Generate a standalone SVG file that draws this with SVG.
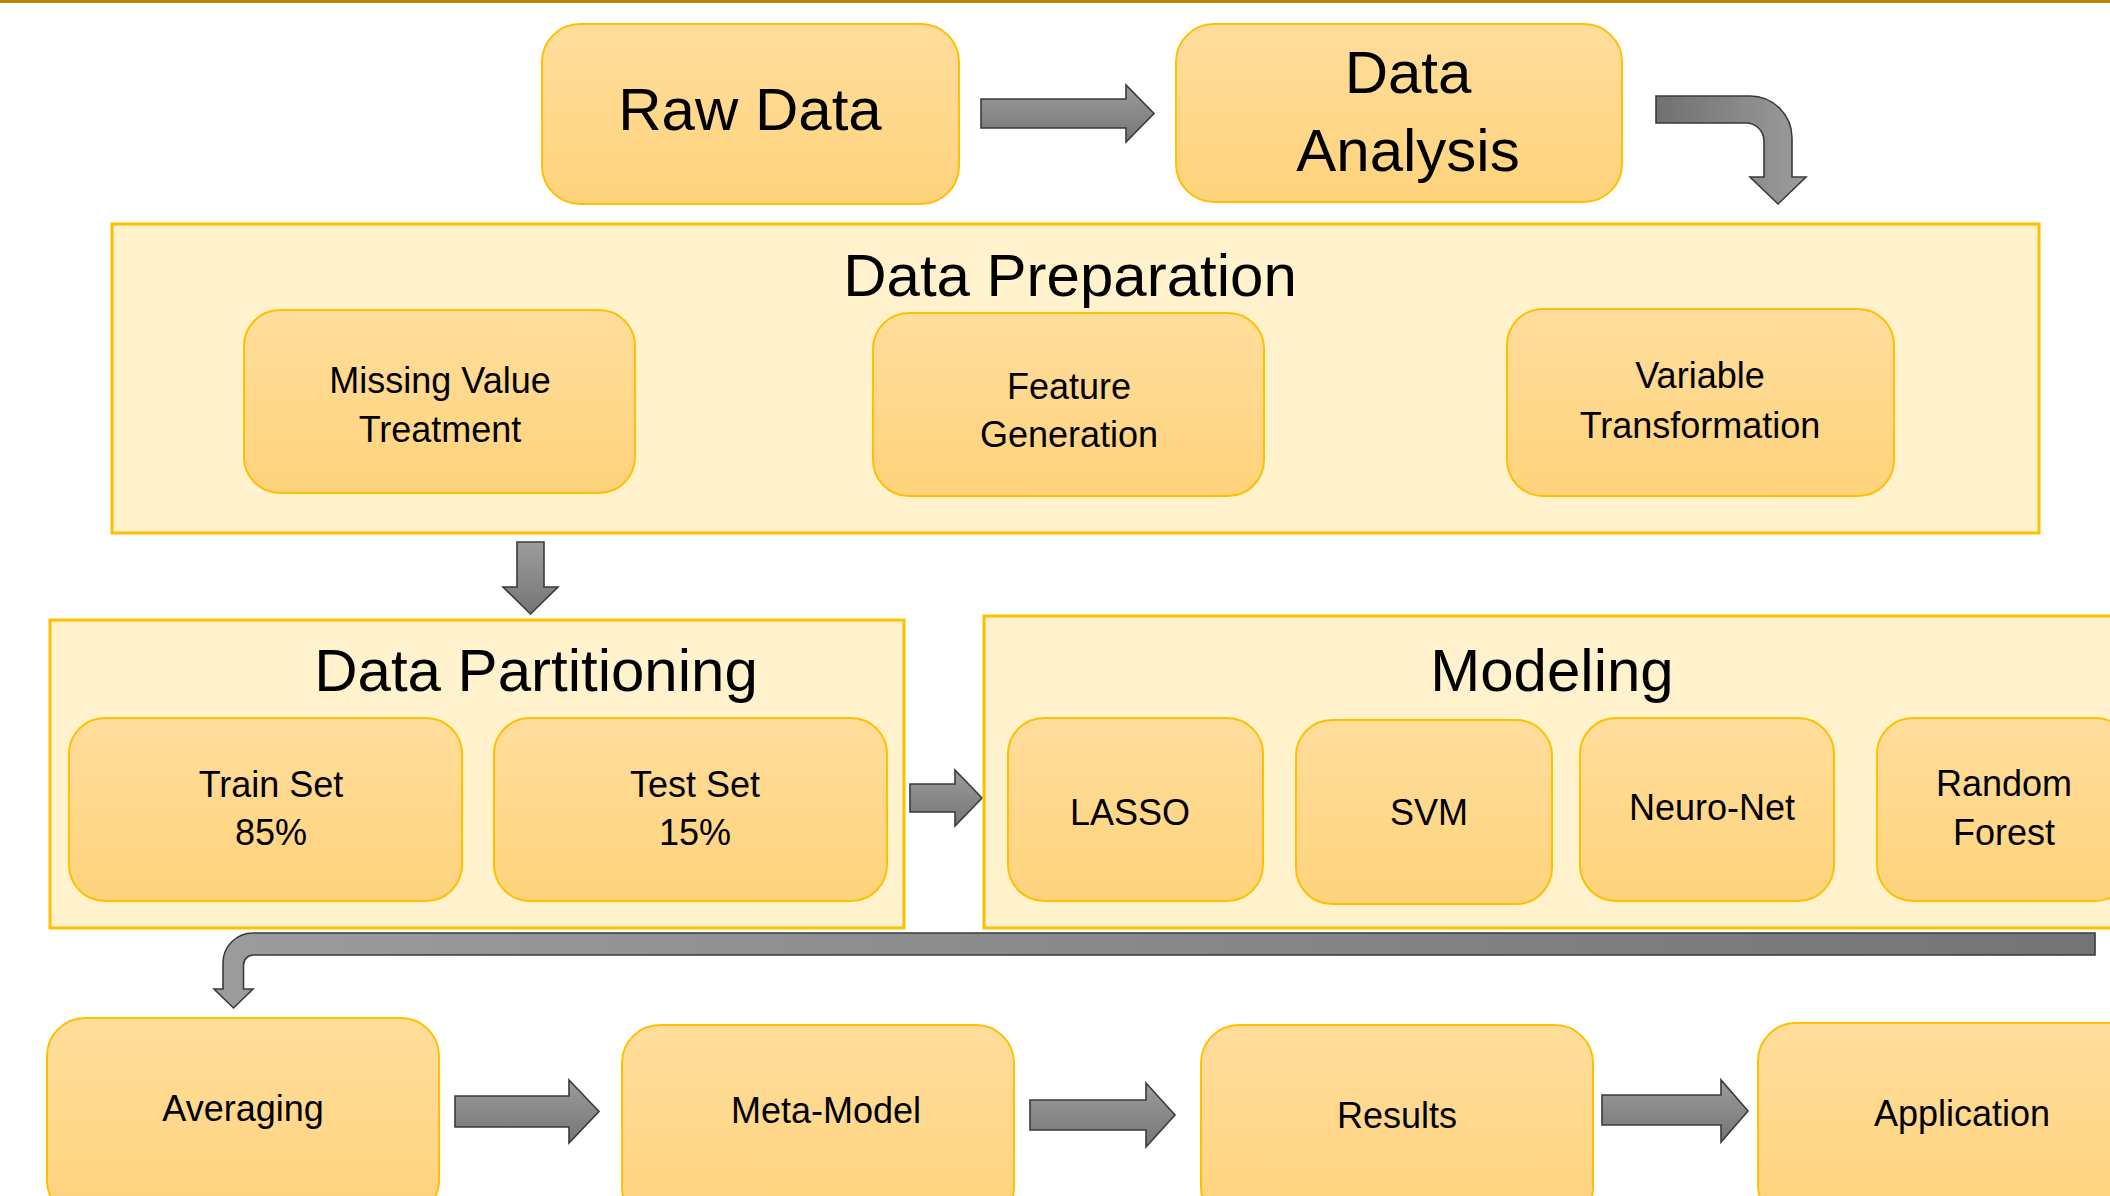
<svg xmlns="http://www.w3.org/2000/svg" width="2110" height="1196" viewBox="0 0 2110 1196">
<defs>
<linearGradient id="boxFill" x1="0" y1="0" x2="0" y2="1">
<stop offset="0" stop-color="#FFDD9C"/>
<stop offset="1" stop-color="#FFD37C"/>
</linearGradient>
<linearGradient id="arrowV" x1="0" y1="0" x2="0" y2="1">
<stop offset="0" stop-color="#9C9C9C"/>
<stop offset="1" stop-color="#757575"/>
</linearGradient>
<linearGradient id="arrowLR" x1="0" y1="0" x2="1" y2="0">
<stop offset="0" stop-color="#707070"/>
<stop offset="1" stop-color="#9C9C9C"/>
</linearGradient>
<linearGradient id="arrowRL" x1="0" y1="0" x2="1" y2="0">
<stop offset="0" stop-color="#9C9C9C"/>
<stop offset="1" stop-color="#747474"/>
</linearGradient>
<style>
.container{fill:#FFF2CC;stroke:#FFC000;stroke-width:3}
.box{fill:url(#boxFill);stroke:#FFC000;stroke-width:2}
.arrow{stroke:#3A3A3A;stroke-width:1.6;stroke-linejoin:miter}
.title{font-family:"Liberation Sans",Arial,sans-serif;font-size:60px;fill:#000;text-anchor:middle}
.label{font-family:"Liberation Sans",Arial,sans-serif;font-size:36px;fill:#000;text-anchor:middle}
</style>
</defs>
<rect x="0" y="0" width="2110" height="1196" fill="#FFFFFF"/>
<rect x="0" y="0" width="2110" height="3" fill="#B8860B"/>

<g id="connectors">
<path class="arrow" fill="url(#arrowV)" d="M981,99 L1126,99 L1126,85 L1154,113.5 L1126,142 L1126,128 L981,128 Z"/>
<path class="arrow" fill="url(#arrowLR)" d="M1656,96 L1750,96 A42,42 0 0 1 1792,138 L1792,177 L1806,177 L1778,204 L1750,177 L1764,177 L1764,141 A18,18 0 0 0 1746,123 L1656,123 Z"/>
<path class="arrow" fill="url(#arrowV)" d="M517,542 L544,542 L544,587 L558,587 L530.5,614 L503,587 L517,587 Z"/>
<path class="arrow" fill="url(#arrowV)" d="M910,784 L955,784 L955,770 L982,798 L955,826 L955,812 L910,812 Z"/>
<path class="arrow" fill="url(#arrowRL)" d="M2095,933 L253,933 A30,30 0 0 0 223,963 L223,989 L214,989 L233.5,1008 L253,989 L243.5,989 L243.5,965 A10,10 0 0 1 253.5,955 L2095,955 Z"/>
<path class="arrow" fill="url(#arrowV)" d="M455,1096 L569,1096 L569,1080 L599,1111.5 L569,1143 L569,1127 L455,1127 Z"/>
<path class="arrow" fill="url(#arrowV)" d="M1030,1100 L1146,1100 L1146,1083 L1175,1115 L1146,1147 L1146,1130 L1030,1130 Z"/>
<path class="arrow" fill="url(#arrowV)" d="M1602,1095 L1721,1095 L1721,1080 L1748,1111 L1721,1142 L1721,1125 L1602,1125 Z"/>
</g>

<g id="raw-data">
<rect class="box" x="542" y="24" width="417" height="180" rx="38" ry="38"/>
<text class="title" x="750" y="130">Raw Data</text>
</g>
<g id="data-analysis">
<rect class="box" x="1176" y="24" width="446" height="178" rx="38" ry="38"/>
<text class="title" x="1408" y="93">Data</text>
<text class="title" x="1408" y="171">Analysis</text>
</g>

<g id="data-preparation">
<rect class="container" x="112" y="224" width="1927" height="309"/>
<text class="title" x="1070" y="296">Data Preparation</text>
</g>
<g id="missing-value-treatment">
<rect class="box" x="244" y="310" width="391" height="183" rx="36" ry="36"/>
<text class="label" x="440" y="393">Missing Value</text>
<text class="label" x="440" y="442">Treatment</text>
</g>
<g id="feature-generation">
<rect class="box" x="873" y="313" width="391" height="183" rx="36" ry="36"/>
<text class="label" x="1069" y="399">Feature</text>
<text class="label" x="1069" y="447">Generation</text>
</g>
<g id="variable-transformation">
<rect class="box" x="1507" y="309" width="387" height="187" rx="36" ry="36"/>
<text class="label" x="1700" y="388">Variable</text>
<text class="label" x="1700" y="438">Transformation</text>
</g>

<g id="data-partitioning">
<rect class="container" x="50" y="620" width="854" height="308"/>
<text class="title" x="536" y="691">Data Partitioning</text>
</g>
<g id="train-set">
<rect class="box" x="69" y="718" width="393" height="183" rx="36" ry="36"/>
<text class="label" x="271" y="797">Train Set</text>
<text class="label" x="271" y="845">85%</text>
</g>
<g id="test-set">
<rect class="box" x="494" y="718" width="393" height="183" rx="36" ry="36"/>
<text class="label" x="695" y="797">Test Set</text>
<text class="label" x="695" y="845">15%</text>
</g>

<g id="modeling">
<rect class="container" x="984" y="616" width="1140" height="312"/>
<text class="title" x="1552" y="691">Modeling</text>
</g>
<g id="lasso">
<rect class="box" x="1008" y="718" width="255" height="183" rx="36" ry="36"/>
<text class="label" x="1130" y="825">LASSO</text>
</g>
<g id="svm">
<rect class="box" x="1296" y="720" width="256" height="184" rx="36" ry="36"/>
<text class="label" x="1429" y="825">SVM</text>
</g>
<g id="neuro-net">
<rect class="box" x="1580" y="718" width="254" height="183" rx="36" ry="36"/>
<text class="label" x="1712" y="820">Neuro-Net</text>
</g>
<g id="random-forest">
<rect class="box" x="1877" y="718" width="254" height="183" rx="36" ry="36"/>
<text class="label" x="2004" y="796">Random</text>
<text class="label" x="2004" y="845">Forest</text>
</g>

<g id="averaging">
<rect class="box" x="47" y="1018" width="392" height="200" rx="38" ry="38"/>
<text class="label" x="243" y="1121">Averaging</text>
</g>
<g id="meta-model">
<rect class="box" x="622" y="1025" width="392" height="200" rx="38" ry="38"/>
<text class="label" x="826" y="1123">Meta-Model</text>
</g>
<g id="results">
<rect class="box" x="1201" y="1025" width="392" height="200" rx="38" ry="38"/>
<text class="label" x="1397" y="1128">Results</text>
</g>
<g id="application">
<rect class="box" x="1758" y="1023" width="392" height="200" rx="38" ry="38"/>
<text class="label" x="1962" y="1126">Application</text>
</g>
</svg>
